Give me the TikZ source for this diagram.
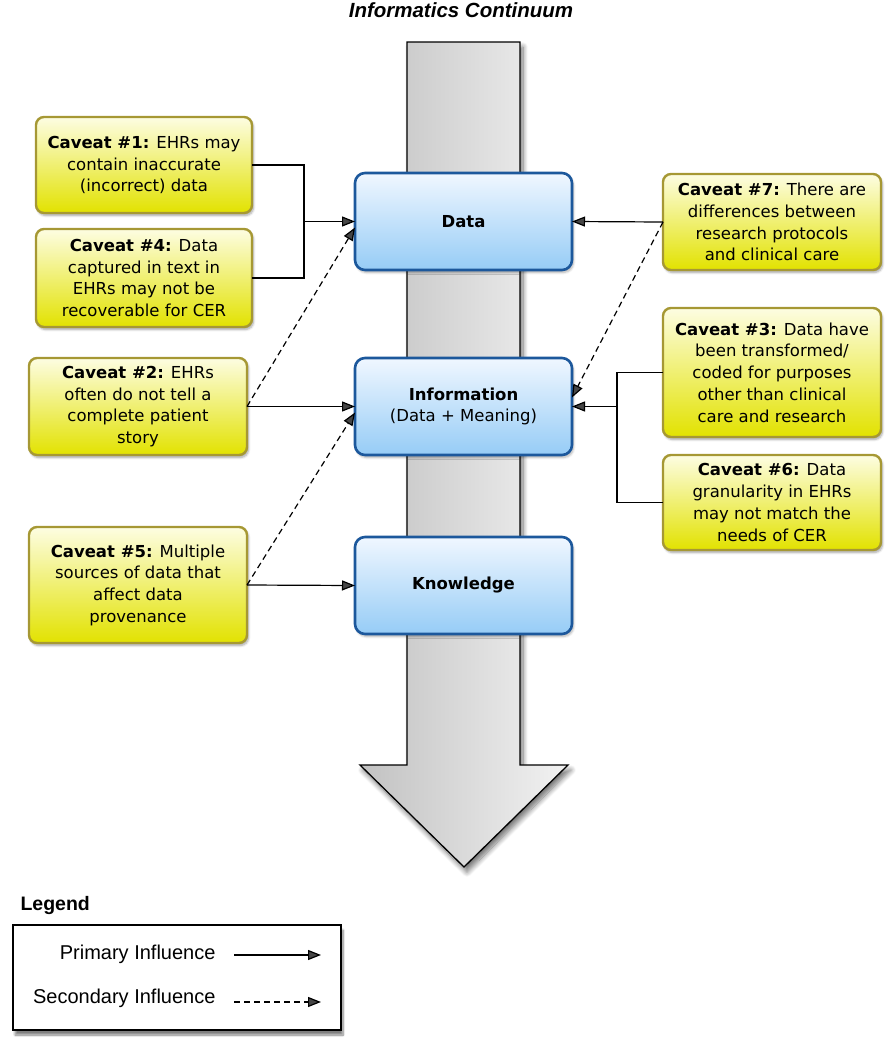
\documentclass[tikz,border=0pt]{standalone}
\usepackage{fontspec}
\setmainfont{DejaVu Sans}
\newfontfamily\legendfont{Liberation Sans}
\usepackage{tikz}
\usetikzlibrary{arrows.meta, shadows, shadows.blur}
\usetikzlibrary{positioning}

\definecolor{capborder}{RGB}{166,152,52}
\definecolor{captop}{RGB}{253,253,226}
\definecolor{capmid}{RGB}{240,240,110}
\definecolor{capbottom}{RGB}{226,226,0}
\definecolor{stageborder}{RGB}{28,88,156}
\definecolor{stagetop}{RGB}{240,247,255}
\definecolor{stagebottom}{RGB}{150,204,246}

\tikzset{
    caveat/.style={draw=capborder,
        line width=2.4pt,
        rounded corners=8pt,
        top color=captop,
        middle color=capmid,
        bottom color=capbottom,
        minimum width=218pt,
        align=center,
        inner sep=2pt,
        outer sep=0pt,
        font=\fontsize{16.5}{21.7}\selectfont,
        blur shadow={shadow blur steps=6, shadow opacity=35,
            shadow xshift=1.5pt, shadow yshift=-2.5pt}},
    stage/.style={draw=stageborder,
        line width=2.6pt,
        rounded corners=10pt,
        top color=stagetop,
        bottom color=stagebottom,
        minimum width=217pt,
        minimum height=97pt,
        align=center,
        outer sep=0pt,
        font=\fontsize{16.5}{21.7}\selectfont,
        blur shadow={shadow blur steps=6, shadow opacity=30,
            shadow xshift=1.5pt, shadow yshift=-2.5pt}},
    primary/.style={line width=1.2pt, -{Triangle[length=13pt,width=10pt]}},
    secondary/.style={primary, dashed, dash pattern=on 6pt off 4pt},
    link/.style={line width=1.2pt}
}

\begin{document}
\begin{tikzpicture}[x=1pt, y=-1pt]

\useasboundingbox (0,0) rectangle (885,1050);

\node [font=\legendfont\bfseries\itshape\fontsize{20.5}{22}\selectfont
] (title) at (461,10) {Informatics Continuum};

% continuum arrow
\path [draw=black,
    line width=1.3pt,
    left color=black!24,
    right color=black!5,
    blur shadow={shadow blur steps=10, shadow opacity=55,
        shadow xshift=3pt, shadow yshift=-5pt, shadow blur radius=5pt}
] (407,42) -- (520,42) -- (520,765) -- (568,765) -- (464,867)
    -- (360,765) -- (407,765) -- cycle;

\node [stage] (data) at (463.5,221.5) {\textbf{Data}};

\node [stage,
    below=88pt of data
] (info) {\textbf{Information}\\(Data + Meaning)};

\node [stage,
    below=82pt of info
] (knowledge) {\textbf{Knowledge}};

% left caveats
\node [caveat,
    minimum width=216pt,
    minimum height=96pt
] (cav1) at (144,165) {\textbf{Caveat \#1:} EHRs may\\contain inaccurate\\(incorrect) data};

\node [caveat,
    minimum width=216pt,
    minimum height=98pt,
    below=16pt of cav1
] (cav4) {\textbf{Caveat \#4:} Data\\captured in text in\\EHRs may not be\\recoverable for CER};

\node [caveat,
    minimum height=97pt
] (cav2) at (138,406.5) {\textbf{Caveat \#2:} EHRs\\often do not tell a\\complete patient\\story};

\node [caveat,
    minimum height=116pt
] (cav5) at (138,585) {\textbf{Caveat \#5:} Multiple\\sources of data that\\affect data\\provenance};

% right caveats
\node [caveat,
    minimum height=96pt
] (cav7) at (772,222) {\textbf{Caveat \#7:} There are\\differences between\\research protocols\\and clinical care};

\node [caveat,
    minimum height=129pt,
    below=38pt of cav7
] (cav3) {\textbf{Caveat \#3:} Data have\\been transformed/\\coded for purposes\\other than clinical\\care and research};

\node [caveat,
    minimum height=95pt,
    below=18pt of cav3
] (cav6) {\textbf{Caveat \#6:} Data\\granularity in EHRs\\may not match the\\needs of CER};

\coordinate (joinleft) at (304,221.5);
\coordinate (joinright) at (617,406.5);

\draw [link] (cav1.east) -| (joinleft) |- (cav4.east);
\draw [primary] (joinleft) -- (data.west);
\draw [primary] (cav2.east) -- (info.west);
\draw [secondary] (cav2.east) -- ([yshift=-6pt]data.west);
\draw [primary] (cav5.east) -- (knowledge.west);
\draw [secondary] (cav5.east) -- ([yshift=-6pt]info.west);

\draw [primary] (cav7.west) -- (data.east);
\draw [secondary] (cav7.west) -- ([yshift=9pt]info.east);
\draw [link] (cav3.west) -| (joinright) |- (cav6.west);
\draw [primary] (joinright) -- (info.east);

% legend
\node [anchor=west,
    font=\legendfont\bfseries\fontsize{19.5}{22}\selectfont
] (legendtitle) at (17,905) {Legend};

\node [draw,
    line width=1.2pt,
    fill=white,
    minimum width=328pt,
    minimum height=105pt,
    blur shadow={shadow blur steps=8, shadow opacity=50,
        shadow xshift=2pt, shadow yshift=-5pt}
] (legend) at (177,977.5) {};

\node [anchor=east,
    font=\legendfont\fontsize{20}{22}\selectfont
] (primtext) at (219,954) {Primary Influence};

\node [anchor=east,
    font=\legendfont\fontsize{20}{22}\selectfont
] (sectext) at (219,998) {Secondary Influence};

\coordinate (primstart) at (234,955);
\coordinate (primend) at (321,955);
\coordinate (secstart) at (234,1002);
\coordinate (secend) at (321,1002);

\draw [primary] (primstart) -- (primend);
\draw [secondary] (secstart) -- (secend);

\end{tikzpicture}
\end{document}
